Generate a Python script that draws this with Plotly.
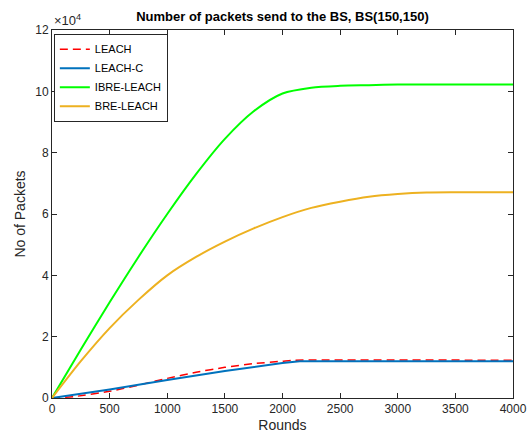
import plotly.graph_objects as go

# Data (packets sent to BS)
leach_rounds = [0, 200, 500, 750, 1000, 1250, 1500, 1750, 2000, 2100, 4000]
leach_vals = [0, 500, 2200, 4200, 6400, 8400, 10000, 11200, 12000, 12300, 12300]

leachc_rounds = [0, 500, 1000, 1500, 2000, 2150, 4000]
leachc_vals = [0, 2800, 5900, 8800, 11400, 12000, 12000]

common_rounds = [0, 250, 500, 750, 1000, 1250, 1500, 1750, 2000, 2250, 2500,
                 2750, 3000, 3250, 3500, 3750, 4000]
ibre_vals = [0, 15800, 31200, 46000, 60000, 73000, 84500, 93500, 99300, 101200,
             101800, 102000, 102200, 102200, 102200, 102200, 102200]
bre_vals = [0, 12000, 22800, 32000, 40000, 46000, 51000, 55300, 59000, 62000,
            64000, 65600, 66500, 67000, 67100, 67100, 67100]

ytick_vals = [0, 20000, 40000, 60000, 80000, 100000, 120000]
ytick_text = ["0", "2", "4", "6", "8", "10", "12"]
xtick_vals = [0, 500, 1000, 1500, 2000, 2500, 3000, 3500, 4000]

FONT = "Liberation Sans, Arial, sans-serif"
AX = "#262626"

fig = go.Figure()
fig.add_trace(go.Scatter(x=leach_rounds, y=leach_vals, mode="lines", name="LEACH",
                         line=dict(color="#ff0000", width=1.5, dash="8px,5px",
                                   shape="spline", smoothing=0.6)))
fig.add_trace(go.Scatter(x=leachc_rounds, y=leachc_vals, mode="lines", name="LEACH-C",
                         line=dict(color="#0072BD", width=2)))
fig.add_trace(go.Scatter(x=common_rounds, y=ibre_vals, mode="lines", name="IBRE-LEACH",
                         line=dict(color="#00ff00", width=2, shape="spline", smoothing=0.8)))
fig.add_trace(go.Scatter(x=common_rounds, y=bre_vals, mode="lines", name="BRE-LEACH",
                         line=dict(color="#EDB120", width=2, shape="spline", smoothing=0.8)))

fig.update_layout(
    width=528, height=444,
    margin=dict(l=52, r=15, t=30, b=46),
    paper_bgcolor="white", plot_bgcolor="white",
    font=dict(family=FONT, size=12, color=AX),
    title=dict(text="<b>Number of packets send to the BS, BS(150,150)</b>",
               x=0.535, xanchor="center", y=0.962, yanchor="middle",
               font=dict(size=13, color="black")),
    showlegend=True,
    legend=dict(x=0.004, y=0.99, xanchor="left", yanchor="top",
                bgcolor="white", bordercolor=AX, borderwidth=1,
                font=dict(size=11, color="black"), tracegroupgap=0,
                itemwidth=30),
    xaxis=dict(range=[0, 4000], tickvals=xtick_vals, ticks="inside", ticklen=5,
               tickcolor=AX, showline=True, linecolor=AX, linewidth=1, mirror="ticks",
               showgrid=False, zeroline=False, automargin=False,
               tickfont=dict(size=12, color=AX),
               title=dict(text="Rounds", font=dict(size=14, color=AX), standoff=4)),
    yaxis=dict(range=[0, 120000], tickvals=ytick_vals, ticktext=ytick_text,
               ticks="inside", ticklen=5, tickcolor=AX, showline=True, linecolor=AX,
               linewidth=1, mirror="ticks", showgrid=False, zeroline=False,
               automargin=False, tickfont=dict(size=12, color=AX),
               title=dict(text="No of Packets", font=dict(size=14, color=AX), standoff=6)),
)

fig.add_annotation(text="×10<sup>4</sup>", xref="paper", yref="paper", x=0.0, y=1.0,
                   xanchor="left", yanchor="bottom", showarrow=False,
                   font=dict(size=13, color=AX), yshift=0)

fig.write_html("out.html", config={"displayModeBar": False},
               post_script="document.body.style.margin='0';document.body.style.overflow='hidden';")
